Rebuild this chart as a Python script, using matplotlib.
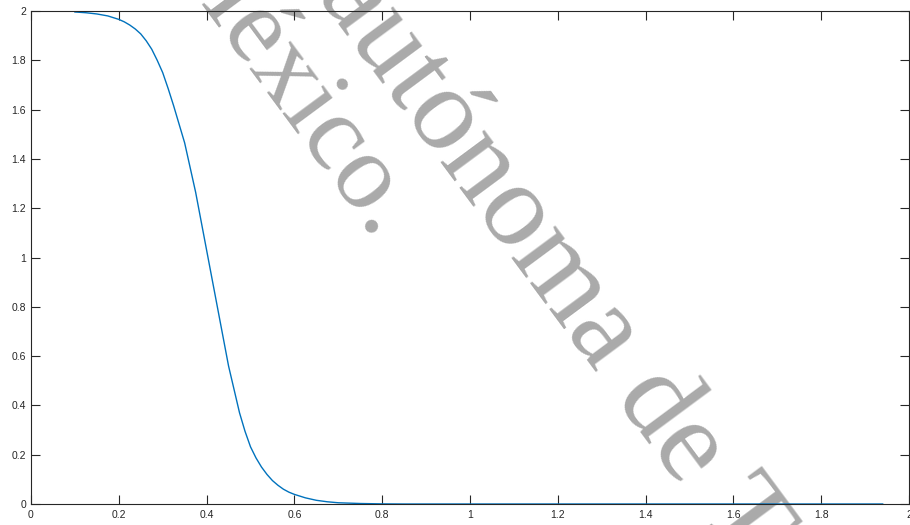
import matplotlib
matplotlib.use('Agg')
import matplotlib.pyplot as plt

# curve values
x_vals = [0.1, 0.125, 0.15, 0.175, 0.2, 0.2125, 0.225, 0.2375, 0.25, 0.2625,
          0.275, 0.2875, 0.3, 0.3125, 0.325, 0.35, 0.375, 0.4, 0.425, 0.45,
          0.475, 0.4875, 0.5, 0.5125, 0.525, 0.5375, 0.55, 0.5625, 0.575, 0.5875,
          0.6, 0.625, 0.65, 0.675, 0.7, 0.75, 0.8, 0.85, 0.9, 1.0,
          1.2, 1.4, 1.6, 1.8, 1.94]
y_vals = [1.996, 1.993, 1.988, 1.980, 1.966, 1.956, 1.943, 1.927, 1.907, 1.879,
          1.845, 1.800, 1.750, 1.685, 1.615, 1.465, 1.265, 1.030, 0.795, 0.560,
          0.370, 0.295, 0.232, 0.187, 0.150, 0.120, 0.095, 0.076, 0.060, 0.048,
          0.039, 0.025, 0.015, 0.009, 0.005, 0.002, 0.0005, 0.0, 0.0, 0.0,
          0.0, 0.0, 0.0, 0.0, 0.0]

x_ticks = [0, 0.2, 0.4, 0.6, 0.8, 1, 1.2, 1.4, 1.6, 1.8, 2]
y_ticks = [0, 0.2, 0.4, 0.6, 0.8, 1, 1.2, 1.4, 1.6, 1.8, 2]
tick_labels = ['0', '0.2', '0.4', '0.6', '0.8', '1', '1.2', '1.4', '1.6', '1.8', '2']

W, H = 910, 525
fig = plt.figure(figsize=(W / 100, H / 100), dpi=100)
ax = fig.add_axes([31 / W, 1 - 504 / H, 878 / W, 493 / H])
ax.set_facecolor('none')

ax.plot(x_vals, y_vals, color='#0072BD', linewidth=1.0)

ax.set_xlim(0, 2)
ax.set_ylim(0, 2)
ax.set_xticks(x_ticks)
ax.set_yticks(y_ticks)
ax.set_xticklabels(tick_labels)
ax.set_yticklabels(tick_labels)

dark = '#262626'
for s in ax.spines.values():
    s.set_color(dark)
    s.set_linewidth(0.8)
ax.tick_params(direction='in', length=6.5, width=0.8, color=dark,
               labelcolor=dark, labelsize=7.5, top=True, right=True)
ax.tick_params(axis='x', pad=4.5)
ax.tick_params(axis='y', pad=3.5)
for lab in ax.get_xticklabels() + ax.get_yticklabels():
    lab.set_family('Liberation Sans')

# watermark behind the axes (positions in pixels from top-left)
def px(x, y):
    return x / W, 1 - y / H

wm = dict(color='#aaaaaa', family='Liberation Serif',
          rotation=-53.5, rotation_mode='anchor', ha='left', va='baseline',
          zorder=-1)
fig.text(*px(316, -6), 'autónoma de T', fontsize=86, **wm)
fig.text(*px(161, -45), 'México.', fontsize=78, **wm)

fig.savefig('out.png', dpi=100)
